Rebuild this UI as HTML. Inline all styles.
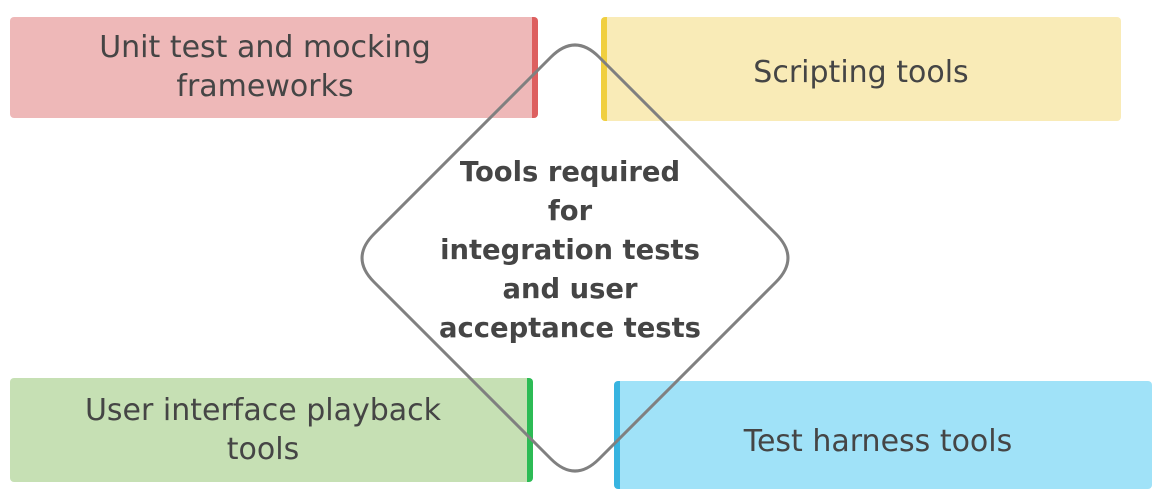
<!DOCTYPE html>
<html><head><style>
body{margin:0;width:1166px;height:504px;background:#fff;position:relative;overflow:hidden;font-family:"DejaVu Sans","Liberation Sans",sans-serif;color:#454545}
.b{position:absolute;border-radius:4px}
.x{position:absolute;text-align:center;font-size:30px;line-height:39px;white-space:nowrap;transform:translateX(-50%)}
.t{position:absolute;left:400px;width:340px;text-align:center;font-weight:bold;font-size:27.4px;line-height:39px;top:153px;white-space:nowrap}
</style></head><body>
<div class="b" style="left:10px;top:17px;width:522px;height:101px;background:#eeb8b8;border-right:6px solid #dd5f5f"></div>
<div class="b" style="left:601px;top:17px;width:514px;height:104px;background:#f9ebb7;border-left:6px solid #f0cf40"></div>
<div class="b" style="left:10px;top:378px;width:517px;height:104px;background:#c6e0b4;border-right:6px solid #2dbb55"></div>
<div class="b" style="left:614px;top:381px;width:532px;height:108px;background:#a0e2f8;border-left:6px solid #38b4e0"></div>
<div class="x" style="left:265px;top:28px">Unit test and mocking<br>frameworks</div>
<div class="x" style="left:861px;top:53px">Scripting tools</div>
<div class="x" style="left:263px;top:391px">User interface playback<br>tools</div>
<div class="x" style="left:878px;top:422px">Test harness tools</div>
<svg width="1166" height="504" style="position:absolute;left:0;top:0">
<path d="M599,57 L776,234 Q800,258 776,282 L599,459 Q575,483 551,459 L374,282 Q350,258 374,234 L551,57 Q575,33 599,57 Z" fill="none" stroke="#808080" stroke-width="3"/>
</svg>
<div class="t">Tools required<br>for<br>integration tests<br>and user<br>acceptance tests</div>
</body></html>
